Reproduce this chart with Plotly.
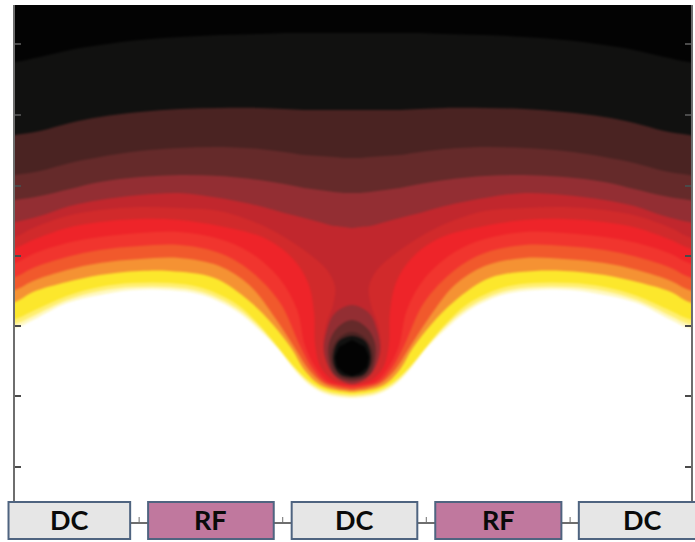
import plotly.graph_objects as go

CENTER = 353
COLUMNS = [15, 40, 70, 100, 140, 180, 220, 260, 285, 305, 320, 335, 345, 352]

# Upper contour levels read at COLUMNS
TOP_L1 = [62, 57, 50, 45, 40, 37, 35, 34, 33, 33, 33, 33, 33, 33]
TOP_L2 = [135, 131, 123, 117, 112, 109, 108, 108, 109, 110, 110, 110, 110, 110]
TOP_L3 = [175, 171, 163, 157, 151, 148, 147, 149, 152, 155, 156, 157, 158, 158]
TOP_L4 = [200, 196, 189, 182, 177, 175, 176, 180, 184, 188, 190, 192, 193, 193]
TOP_L5 = [222, 216, 206, 200, 195, 193, 198, 206, 213, 218, 222, 226, 227, 228]

# Contours dipping round the central well: (x, y)
L6 = [(15,237),(33,228),(67,216),(100,210),(140,207),(180,208),(220,211),(260,224),(285,237),(310,254),(328,270),(336,287),(334,305),(327,325),(324,350),(329,365),(338,378),(347,383),(352,384)]
L7 = [(15,248),(33,240),(67,228),(100,222),(140,219),(180,220),(220,226),(265,238),(293,258),(309,283),(315,313),(316,345),(322,368),(335,381),(345,384),(352,385)]
L8 = [(15,263),(33,254),(67,243),(100,237),(140,233),(180,232),(220,239),(250,252),(280,278),(298,310),(306,346),(317,368),(330,382),(342,385),(352,386)]
L9 = [(15,277),(33,268),(67,257),(100,250),(140,246),(180,245),(220,253),(250,270),(281,303),(300,344),(313,368),(326,382),(340,386),(352,388)]
L10 = [(15,290),(33,281),(67,270),(100,263),(140,259),(180,258),(220,266),(250,285),(276,318),(297,350),(310,370),(324,383),(338,388),(352,390)]
L11 = [(15,302),(33,292),(67,282),(100,275),(140,271),(170,271),(215,278),(250,301),(274,325),(292,348),(306,371),(321,385),(337,390),(352,392)]
F1 = [(15,319),(33,311),(67,296),(100,287),(133,283),(170,283),(203,288),(237,304),(258,323),(276,344),(295,367),(313,383),(330,391),(352,394)]
F2 = [(15,324),(33,316),(67,300),(100,291),(133,287),(170,287),(203,292),(237,308),(260,327),(279,348),(297,370),(313,385),(330,393),(352,396)]
F3 = [(15,328),(33,320),(67,303),(100,295),(133,290),(170,290),(203,295),(237,311),(260,330),(280,350),(297,372),(313,387),(330,395),(352,398)]

# Closed rings in the well: (distance from centre, y)
RING_93 = [(0,305),(17,313),(25,330),(28,350),(22,370),(12,380),(0,384)]
RING_65 = [(0,320),(15,328),(23,343),(23,360),(17,375),(0,381)]
RING_4A = [(0,332),(13,338),(20,350),(20,363),(13,375),(0,379)]
RING_11 = [(0,336),(13,341),(18,352),(18,364),(12,374),(0,377)]
RING_00 = [(0,340),(13,347),(17,357),(15,367),(8,373),(0,376)]

BLACK, C11, C4A, C65, C93 = "#030303", "#111110", "#4a2322", "#652a2a", "#932e33"
CC3, CD3, CEE, CF0, CF5, CF8, CYL = "#c1272d", "#d12a2b", "#ee2429", "#f1352e", "#f1592c", "#f59233", "#fce72c"

Y_TICKS = [44, 115, 186, 256, 326, 396, 467]

BOX_LEFT = [8.5, 148.5, 292.5, 436.5, 580.5]
BOX_RIGHT = [130.5, 274.5, 418.5, 563, 720]
BOX_TEXT = ["DC", "RF", "DC", "RF", "DC"]
BOX_FILL = ["#e6e6e6", "#c0789e", "#e6e6e6", "#c0789e", "#e6e6e6"]
BOX_TOP, BOX_BOTTOM = 502, 539
LINK_Y = 523

W, H = 695, 542
PL, PR, PT, PB = 15, 693, 5, 501
px = lambda v: (v - PL) / (PR - PL)
py = lambda v: (PB - v) / (PB - PT)

fig = go.Figure()

def band(points, color):
    xs = [-20] + [p[0] for p in points] + [2 * CENTER - p[0] for p in reversed(points)] + [2 * CENTER + 20]
    ys = [points[0][1] + 4] + [p[1] for p in points] + [p[1] for p in reversed(points)] + [points[0][1] + 4]
    xs = xs + [2 * CENTER + 20, -20]
    ys = ys + [-30, -30]
    fig.add_trace(go.Scatter(x=xs, y=ys, mode="lines", fill="toself", fillcolor=color,
                             line=dict(width=0, color=color, shape="spline", smoothing=1.0),
                             hoverinfo="skip", showlegend=False))

def ring(points, color, shape="spline"):
    xs = [CENTER - p[0] for p in points] + [CENTER + p[0] for p in reversed(points[1:-1])] + [CENTER]
    ys = [p[1] for p in points] + [p[1] for p in reversed(points[1:-1])] + [points[0][1]]
    fig.add_trace(go.Scatter(x=xs, y=ys, mode="lines", fill="toself", fillcolor=color,
                             line=dict(width=0, color=color, shape=shape),
                             hoverinfo="skip", showlegend=False))

for pts, col in [(F3, "#fff8c0"), (F2, "#ffef70"), (F1, CYL), (L11, CF8), (L10, CF5), (L9, CF0),
                 (L8, CEE), (L7, CD3), (L6, CC3)]:
    band(pts, col)
for vals, col in [(TOP_L5, C93), (TOP_L4, C65), (TOP_L3, C4A), (TOP_L2, C11), (TOP_L1, BLACK)]:
    band(list(zip(COLUMNS, vals)), col)
for pts, col in [(RING_93, C93), (RING_65, C65), (RING_4A, C4A), (RING_11, C11)]:
    ring(pts, col)
ring(RING_00, BLACK, "linear")

shapes = []
for left, right, fill in zip(BOX_LEFT, BOX_RIGHT, BOX_FILL):
    shapes.append(dict(type="rect", xref="paper", yref="paper", x0=px(left), x1=px(right),
                       y0=py(BOX_BOTTOM), y1=py(BOX_TOP), fillcolor=fill,
                       line=dict(color="#4f6480", width=2)))
annotations = []
for left, right, text in zip(BOX_LEFT, BOX_RIGHT, BOX_TEXT):
    mid = (left + min(right, 708)) / 2
    annotations.append(dict(xref="paper", yref="paper", x=px(mid), y=py((BOX_TOP + BOX_BOTTOM) / 2 - 1),
                            text=text, showarrow=False, xanchor="center", yanchor="middle",
                            font=dict(family="Lato", size=27, color="#0a0a0a", weight="bold")))
for right, left in zip(BOX_RIGHT[:-1], BOX_LEFT[1:]):
    shapes.append(dict(type="line", xref="paper", yref="paper", x0=px(right), x1=px(left),
                       y0=py(LINK_Y), y1=py(LINK_Y), line=dict(color="#6e6e6e", width=2), layer="below"))
    mid = (right + left) / 2
    shapes.append(dict(type="line", xref="paper", yref="paper", x0=px(mid), x1=px(mid),
                       y0=py(LINK_Y), y1=py(LINK_Y - 6), line=dict(color="#6e6e6e", width=1), layer="below"))

fig.update_layout(
    width=W, height=H, margin=dict(l=PL, r=W - PR, t=PT, b=H - PB),
    paper_bgcolor="white", plot_bgcolor="white", shapes=shapes, annotations=annotations,
    xaxis=dict(range=[PL, PR], showgrid=False, zeroline=False, showticklabels=False, ticks="", showline=False),
    yaxis=dict(range=[PB, PT], showgrid=False, zeroline=False, showticklabels=False, tickmode="array",
               tickvals=Y_TICKS, ticks="inside", ticklen=6, tickwidth=2, tickcolor="#4a4a4a",
               showline=True, linewidth=2, linecolor="#6e6e6e", mirror="ticks"),
)
fig.write_html("out.html", config={"displayModeBar": False},
               post_script="document.body.style.margin='0';document.body.style.overflow='hidden';"
                           "document.querySelectorAll('.scatterlayer').forEach(function(e){e.style.filter='blur(1px)';});")
